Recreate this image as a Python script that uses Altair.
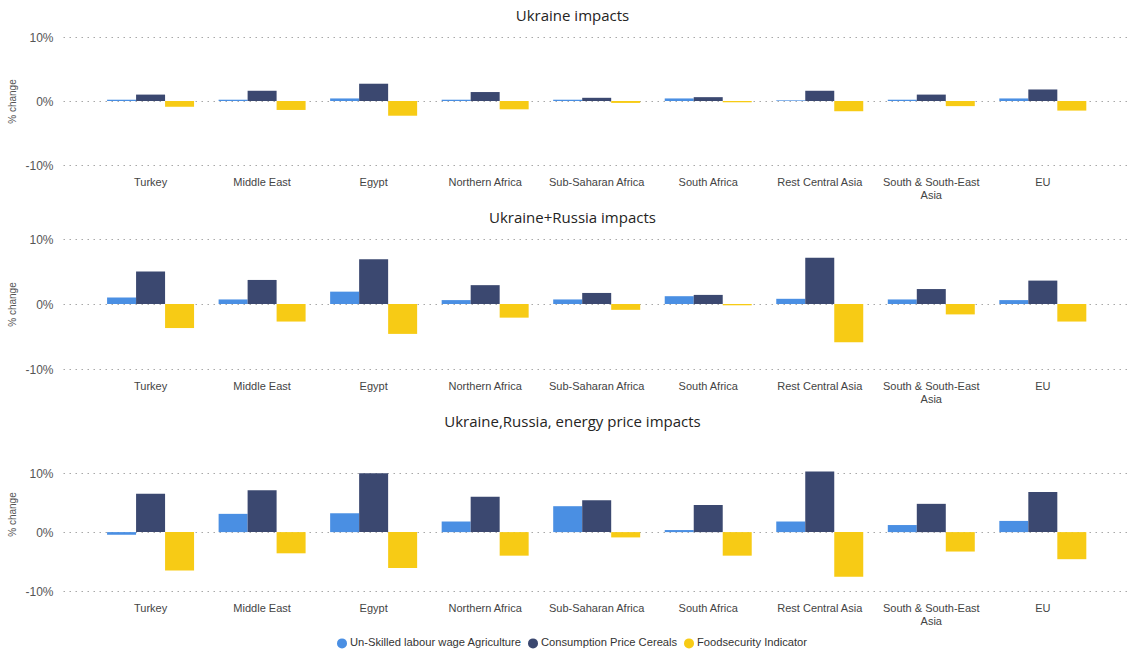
import altair as alt
import pandas as pd

regions = ["Turkey", "Middle East", "Egypt", "Northern Africa", "Sub-Saharan Africa",
           "South Africa", "Rest Central Asia", "South & South-East Asia", "EU"]
series = ["Un-Skilled labour wage Agriculture", "Consumption Price Cereals", "Foodsecurity Indicator"]
colors = ["#4A8FE3", "#3B4870", "#F7CB15"]

# Panel 1: Ukraine impacts
p1_wage = [0.2, 0.2, 0.4, 0.2, 0.2, 0.4, 0.1, 0.2, 0.4]
p1_cereal = [1.0, 1.6, 2.7, 1.4, 0.5, 0.6, 1.6, 1.0, 1.8]
p1_food = [-0.9, -1.4, -2.3, -1.3, -0.3, -0.2, -1.6, -0.8, -1.5]

# Panel 2: Ukraine+Russia impacts
p2_wage = [1.0, 0.7, 1.9, 0.6, 0.7, 1.2, 0.8, 0.7, 0.6]
p2_cereal = [5.0, 3.7, 6.9, 2.9, 1.7, 1.4, 7.1, 2.3, 3.6]
p2_food = [-3.7, -2.7, -4.6, -2.1, -0.9, -0.2, -5.9, -1.6, -2.7]

# Panel 3: Ukraine,Russia, energy price impacts
p3_wage = [-0.45, 3.1, 3.2, 1.8, 4.4, 0.35, 1.8, 1.2, 1.9]
p3_cereal = [6.5, 7.1, 10.0, 6.0, 5.4, 4.6, 10.3, 4.8, 6.8]
p3_food = [-6.5, -3.6, -6.1, -4.0, -0.9, -4.0, -7.6, -3.3, -4.6]

titles = ["Ukraine impacts", "Ukraine+Russia impacts", "Ukraine,Russia, energy price impacts"]


def make_df(w, c, f):
    rows = []
    for i, r in enumerate(regions):
        for s, vals in zip(series, [w, c, f]):
            rows.append({"region": r, "series": s, "value": vals[i]})
    return pd.DataFrame(rows)


LABEL_FONT = "Liberation Sans"
TITLE_FONT = "Open Sans"


def panel(df, title, domain, height, legend):
    return alt.Chart(df).mark_bar().encode(
        x=alt.X("region:N", sort=regions,
                scale=alt.Scale(paddingInner=0.22, paddingOuter=0.38, align=0.52),
                axis=alt.Axis(title=None, labelAngle=0, domain=False, ticks=False,
                              labelPadding=11, labelFontSize=11, labelColor="#444444",
                              labelFont=LABEL_FONT, labelLimit=200,
                              labelExpr="datum.value == 'South & South-East Asia' ? ['South & South-East', 'Asia'] : datum.value")),
        xOffset=alt.XOffset("series:N", sort=series,
                            scale=alt.Scale(paddingInner=0, paddingOuter=0)),
        y=alt.Y("value:Q", scale=alt.Scale(domain=domain, nice=False, zero=True),
                axis=alt.Axis(values=[-10, 0, 10], labelExpr="datum.value + '%'",
                              title="% change", titleFontSize=10, titleFontWeight="normal",
                              titleColor="#555555", titleFont=LABEL_FONT, titlePadding=7,
                              domain=False, ticks=False, labelPadding=10, labelFontSize=12,
                              labelColor="#555555", labelFont=LABEL_FONT,
                              grid=True, gridDash=[1.5, 4.5], gridColor="#a8a8a8", gridWidth=1.2)),
        color=alt.Color("series:N", sort=series,
                        scale=alt.Scale(domain=series, range=colors),
                        legend=legend),
    ).properties(
        width=1064, height=height,
        title=alt.TitleParams(title, anchor="middle", frame="bounds", fontSize=15,
                              font=TITLE_FONT, fontWeight="normal", color="#252423",
                              offset=7, dx=5),
    )


legend3 = alt.Legend(title=None, orient="none", direction="horizontal",
                     legendX=273, legendY=200, symbolType="circle",
                     symbolSize=100, labelFontSize=11.2, labelFont=LABEL_FONT,
                     labelColor="#333333", columnPadding=5, symbolOffset=0,
                     labelOffset=2, labelLimit=300)

c1 = panel(make_df(p1_wage, p1_cereal, p1_food), titles[0], [-10, 10], 128, None)
c2 = panel(make_df(p2_wage, p2_cereal, p2_food), titles[1], [-10, 10], 130, None)
c3 = panel(make_df(p3_wage, p3_cereal, p3_food), titles[2], [-10, 16.15], 154, legend3)

chart = alt.vconcat(c1, c2, c3, spacing=11).resolve_scale(color="independent").properties(
    padding={"left": 7, "top": 9, "right": 1, "bottom": 0},
    background="white",
).configure_view(strokeWidth=0)

chart.save("out.html", embed_options={"renderer": "svg", "actions": False})
